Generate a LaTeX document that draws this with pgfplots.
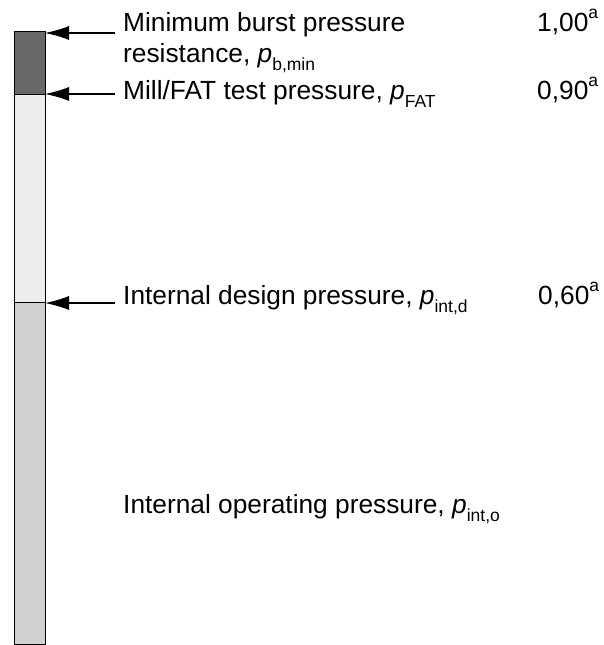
\documentclass[border=0pt]{standalone}
\usepackage{pgfplots}
\pgfplotsset{compat=1.18}
\usepackage{fontspec}
\setmainfont{Liberation Sans}
\usetikzlibrary{arrows.meta}
\definecolor{topfill}{HTML}{686868}
\definecolor{midfill}{HTML}{EDEDED}
\definecolor{botfill}{HTML}{D0D0D0}
\newcommand{\pv}[1]{\textit{p}\raisebox{-0.3em}{\fontsize{17.5}{17.5}\selectfont #1}}
\newcommand{\sa}{\raisebox{0.5em}{\fontsize{17.5}{17.5}\selectfont a}}
\begin{document}
\begin{tikzpicture}
\begin{axis}[
  scale only axis, width=603pt, height=645pt,
  xmin=0, xmax=603, ymin=0, ymax=645,
  hide axis, clip=false,
  ybar stacked, bar width=31,
]
% segments: internal operating, to design; design to FAT; FAT to burst (diagram units)
\addplot[draw=black, line width=1pt, fill=botfill] coordinates {(29.5,342)};
\addplot[draw=black, line width=1pt, fill=midfill] coordinates {(29.5,208)};
\addplot[draw=black, line width=1pt, fill=topfill] coordinates {(29.5,63)};
\end{axis}
\begin{axis}[
  scale only axis, width=603pt, height=645pt,
  xmin=0, xmax=603, ymin=0, ymax=645,
  hide axis, clip=false,
  nodes={font=\fontsize{26.3}{30}\selectfont, inner sep=0pt},
]
\addplot[black, line width=1.2pt, -{Latex[length=24pt,width=14pt]}] coordinates {(115,612) (45,612)};
\addplot[black, line width=1.2pt, -{Latex[length=24pt,width=14pt]}] coordinates {(115,551) (45,551)};
\addplot[black, line width=1.2pt, -{Latex[length=24pt,width=14pt]}] coordinates {(115,342) (45,342)};
\node[anchor=base west] at (axis cs:123,613) {Minimum burst pressure};
\node[anchor=base west] at (axis cs:123,582) {resistance, \pv{b,min}};
\node[anchor=base west] at (axis cs:123,545) {Mill/FAT test pressure, \pv{FAT}};
\node[anchor=base west] at (axis cs:123,340) {Internal design pressure, \pv{int,d}};
\node[anchor=base west] at (axis cs:123,131) {Internal operating pressure, \pv{int,o}};
\node[anchor=base west] at (axis cs:537,613) {1,00\sa};
\node[anchor=base west] at (axis cs:537,545) {0,90\sa};
\node[anchor=base west] at (axis cs:538,340) {0,60\sa};
\end{axis}
\pgfresetboundingbox
\path (0,0) rectangle (603pt,645pt);
\end{tikzpicture}
\end{document}
